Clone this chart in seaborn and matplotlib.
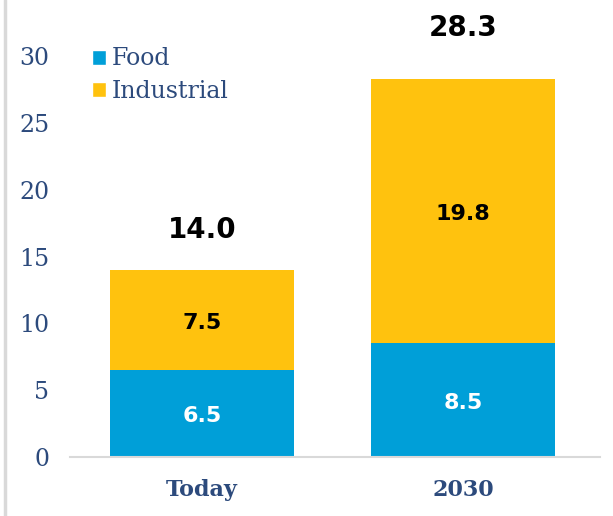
import matplotlib
matplotlib.use("Agg")
import matplotlib.pyplot as plt
from matplotlib.lines import Line2D
from matplotlib.patches import Patch
import numpy as np
import pandas as pd
import seaborn as sns

# Demand by use, today vs. 2030
categories = ["Today", "2030"]
food = [6.5, 8.5]
industrial = [7.5, 19.8]
totals = [14.0, 28.3]

FOOD_COLOR = "#009FD8"
IND_COLOR = "#FFC20E"
TEXT_BLUE = "#2C4A7C"
GRID_GRAY = "#D9D9D9"

sns.set_theme(style="white")
plt.rcParams["font.family"] = ["DejaVu Serif"]

df = pd.DataFrame({"category": categories, "food": food,
                   "industrial": industrial, "total": totals})

fig = plt.figure(figsize=(6.13, 5.16), dpi=100)
ax = fig.add_axes([70 / 613, 59 / 516, 530 / 613, 401 / 516])

# Stacked bars: full height in yellow, food share overlaid in blue
sns.barplot(data=df, x="category", y="total", color=IND_COLOR,
            width=0.705, saturation=1, ax=ax, linewidth=0)
sns.barplot(data=df, x="category", y="food", color=FOOD_COLOR,
            width=0.705, saturation=1, ax=ax, linewidth=0)

ax.set_xlim(-0.506, 1.525)
ax.set_ylim(0, 30)
ax.set_yticks(range(0, 31, 5))
ax.set_xlabel("")
ax.set_ylabel("")

for s in ["top", "right", "left"]:
    ax.spines[s].set_visible(False)
ax.spines["bottom"].set_color(GRID_GRAY)
ax.spines["bottom"].set_linewidth(1.5)

ax.tick_params(axis="y", length=0, pad=15, labelsize=17, labelcolor=TEXT_BLUE)
ax.tick_params(axis="x", length=0, pad=16, labelsize=16, labelcolor=TEXT_BLUE)
for lbl in ax.get_xticklabels():
    lbl.set_fontweight("bold")

# Value labels
total_offsets = [3.0, 3.8]
for i in range(len(categories)):
    ax.text(i, food[i] / 2 - 0.2, f"{food[i]:.1f}", ha="center", va="center",
            color="white", fontsize=16, fontweight="bold", family="DejaVu Sans")
    ax.text(i, food[i] + industrial[i] / 2 - 0.25, f"{industrial[i]:.1f}",
            ha="center", va="center", color="black", fontsize=16,
            fontweight="bold", family="DejaVu Sans")
    ax.text(i, totals[i] + total_offsets[i], f"{totals[i]:.1f}", ha="center",
            va="center", color="black", fontsize=20, fontweight="bold",
            family="DejaVu Sans", clip_on=False)

handles = [Patch(facecolor=FOOD_COLOR, label="Food"),
           Patch(facecolor=IND_COLOR, label="Industrial")]
leg = ax.legend(handles=handles, loc="upper left", bbox_to_anchor=(0.023, 1.045),
                frameon=False, fontsize=17, handlelength=0.6, handleheight=0.6,
                handletextpad=0.25, labelspacing=0.4, borderaxespad=0)
for t in leg.get_texts():
    t.set_color(TEXT_BLUE)

# Thin frame rule on the left edge of the figure
fig.add_artist(Line2D([5 / 613, 5 / 613], [0, 1], color=GRID_GRAY,
                      linewidth=2.5, transform=fig.transFigure))

fig.savefig("out.png", dpi=100)
